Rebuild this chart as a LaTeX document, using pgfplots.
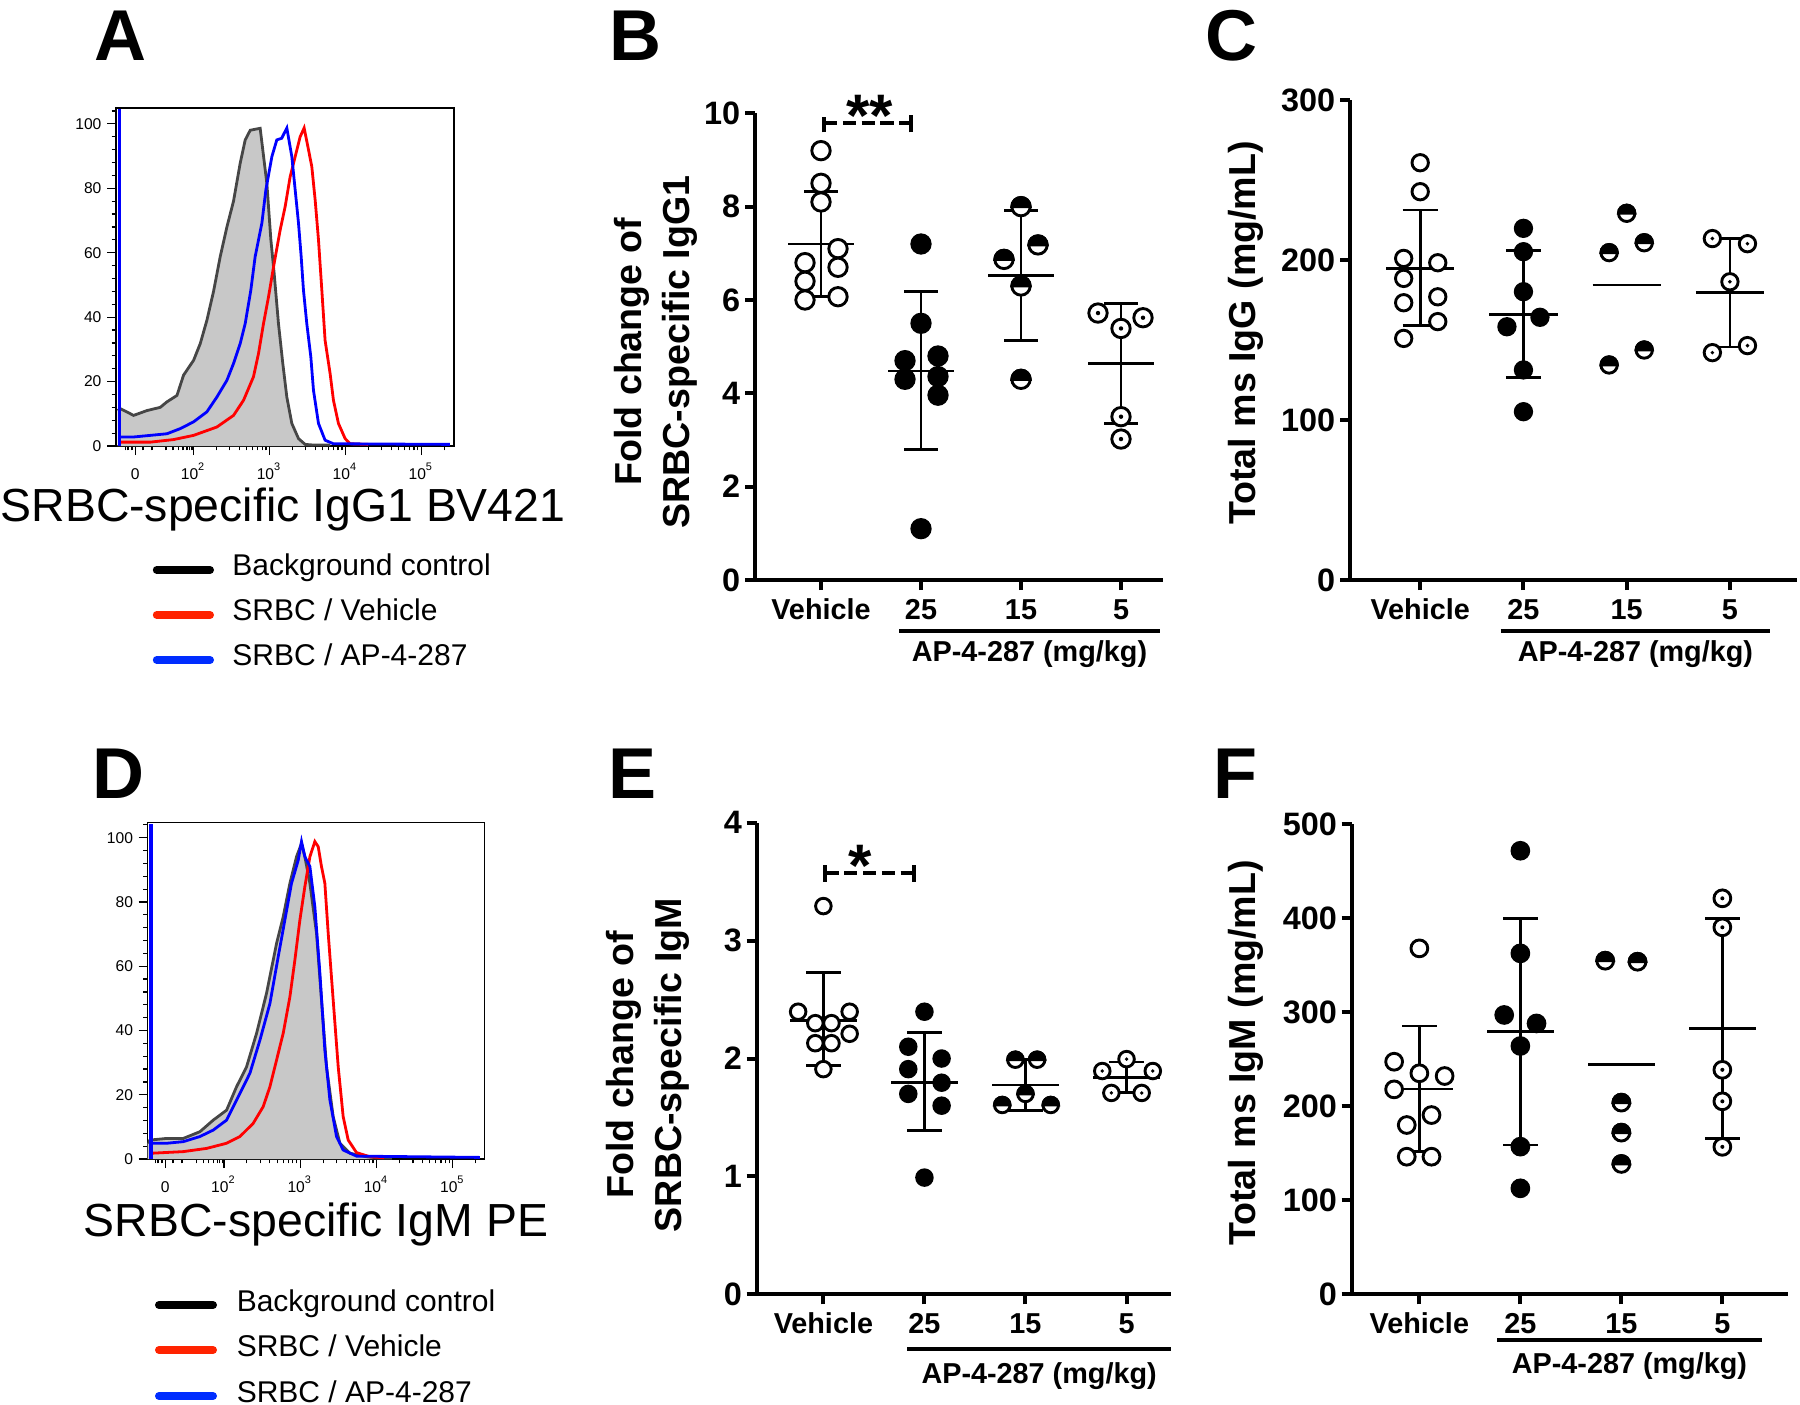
\documentclass[border=0pt]{standalone}
\usepackage{fontspec}
\setmainfont{Liberation Sans}
\usepackage{pgfplots}
\pgfplotsset{compat=1.18}

\definecolor{hred}{RGB}{255,0,0}
\definecolor{hblue}{RGB}{0,0,255}
\definecolor{lred}{RGB}{255,35,0}
\definecolor{lblue}{RGB}{0,45,255}
\definecolor{hfill}{RGB}{200,200,200}
\definecolor{hline}{RGB}{70,70,70}

\pgfdeclareplotmark{halfcirc}{%
  \pgfpathcircle{\pgfpointorigin}{\pgfplotmarksize}%
  \pgfsetfillcolor{white}\pgfusepathqfillstroke
  \pgfpathmoveto{\pgfqpoint{\pgfplotmarksize}{0pt}}%
  \pgfpatharc{0}{180}{\pgfplotmarksize}%
  \pgfpathclose
  \pgfsetfillcolor{black}\pgfusepathqfillstroke}
\pgfdeclareplotmark{dotcirc}{%
  \pgfpathcircle{\pgfpointorigin}{\pgfplotmarksize}%
  \pgfsetfillcolor{white}\pgfusepathqfillstroke
  \pgfpathcircle{\pgfpointorigin}{0.24\pgfplotmarksize}%
  \pgfsetfillcolor{black}\pgfusepathqfill}

\newcommand\labfont{\bfseries\fontsize{9.4}{11}\selectfont}
\newcommand\ytfont{\bfseries\fontsize{8.1}{9}\selectfont}
\newcommand\xtfont{\bfseries\fontsize{7.2}{9}\selectfont}
\newcommand\panfont{\bfseries\fontsize{18}{20}\selectfont}
\newcommand\hxfont{\fontsize{11.6}{13}\selectfont}
\newcommand\legfont{\fontsize{7.5}{9}\selectfont}
\newcommand\htfont{\fontsize{3.9}{4.5}\selectfont}
\newcommand\starfont{\bfseries\fontsize{15}{17}\selectfont}

\pgfplotsset{
  hist/.style={scale only axis, tick pos=left, tick align=outside,
    major tick length=2.25pt, minor tick length=1.1pt,
    tick style={black, line width=0.3pt},
    axis line style={line width=0.35pt},
    ytick={0,20,40,60,80,100}, yticklabels={0,20,40,60,80,100},
    minor ytick={4,8,12,16,24,28,32,36,44,48,52,56,64,68,72,76,84,88,92,96,104},
    xtick={1.23,2,3,4,5},
    xticklabels={0,10\textsuperscript{2},10\textsuperscript{3},10\textsuperscript{4},10\textsuperscript{5}},
    minor xtick={1.10,1.136,1.19,1.333,1.452,1.636,1.728,1.803,1.860,1.912,1.947,1.978,2.301,2.477,2.602,2.699,2.778,2.845,2.903,2.954,3.301,3.477,3.602,3.699,3.778,3.845,3.903,3.954,4.301,4.477,4.602,4.699,4.778,4.845,4.903,4.954,5.301},
    tick label style={font=\htfont},
    y tick label style={inner sep=1.2pt},
    x tick label style={anchor=base, yshift=-6pt}},
  gp/.style={scale only axis, axis lines=left, axis line style={-, line width=1pt},
    tick align=outside, major tick length=2.5pt, tick style={black, line width=1pt},
    xtick={0,1,2,3}, xticklabels={Vehicle,25,15,5},
    x tick label style={font=\xtfont, anchor=base, yshift=-7.4pt},
    y tick label style={font=\ytfont, inner sep=1pt},
    clip=false, unbounded coords=jump, ymin=0},
  vm/.style={black, only marks, mark=*, mark size=#1, mark options={draw=black, fill=white, line width=0.72pt}},
  fm/.style={black, only marks, mark=*, mark size=#1, mark options={draw=black, fill=black, line width=0.72pt}},
  hm/.style={black, only marks, mark=halfcirc, mark size=#1, mark options={draw=black, line width=0.72pt}},
  dm/.style={black, only marks, mark=dotcirc, mark size=#1, mark options={draw=black, line width=0.72pt}},
  eb/.style={black, line width=0.7pt, mark=none},
  br/.style={black, line width=1pt, mark=none, dash pattern=on 3.3pt off 1.4pt},
  bc/.style={black, line width=1pt, mark=none},
  hc/.style={line width=0.7pt, mark=none},
}

\begin{document}
\begin{tikzpicture}
\path[use as bounding box] (0,0) rectangle (450pt,-351pt);

% panel letters
\node[anchor=base west, font=\panfont, inner sep=0] at (23.5pt,-15pt) {A};
\node[anchor=base west, font=\panfont, inner sep=0] at (152.25pt,-15pt) {B};
\node[anchor=base west, font=\panfont, inner sep=0] at (301.25pt,-15pt) {C};
\node[anchor=base west, font=\panfont, inner sep=0] at (23pt,-199.5pt) {D};
\node[anchor=base west, font=\panfont, inner sep=0] at (152pt,-199.5pt) {E};
\node[anchor=base west, font=\panfont, inner sep=0] at (303.25pt,-199.5pt) {F};

% ---------------- A ----------------
\begin{axis}[hist, at={(29pt,-111.5pt)}, anchor=south west, width=84.5pt, height=84.5pt,
  xmin=0.978, xmax=5.43, ymin=0, ymax=104.9]
\addplot[draw=none, fill=hfill] coordinates {(1.0,11) (1.035,11.6) (1.21,9.5) (1.386,11) (1.561,12) (1.649,13.7) (1.781,15.7) (1.868,22) (2.0,26.6) (2.088,31.8) (2.175,39) (2.263,48) (2.351,58.8) (2.439,68) (2.526,76) (2.614,87.8) (2.680,95) (2.746,98) (2.877,98.6) (2.965,81.5) (3.018,64) (3.061,53.6) (3.118,38) (3.175,25.6) (3.228,15.2) (3.294,7) (3.382,2.3) (3.469,0.5) (3.58,0)} \closedcycle;
\addplot[hc, hline] coordinates {(1.0,11) (1.035,11.6) (1.21,9.5) (1.386,11) (1.561,12) (1.649,13.7) (1.781,15.7) (1.868,22) (2.0,26.6) (2.088,31.8) (2.175,39) (2.263,48) (2.351,58.8) (2.439,68) (2.526,76) (2.614,87.8) (2.680,95) (2.746,98) (2.877,98.6) (2.965,81.5) (3.018,64) (3.061,53.6) (3.118,38) (3.175,25.6) (3.228,15.2) (3.294,7) (3.382,2.3) (3.469,0.5) (3.58,0.3) (3.8,0.3)};
\addplot[hc, hred] coordinates {(1.035,1.2) (1.43,1.2) (1.737,2.0) (2.0,3.3) (2.307,5.9) (2.526,9.5) (2.658,14.2) (2.789,21.5) (2.855,28.7) (2.921,38) (2.987,46.3) (3.053,55.6) (3.140,67) (3.206,74.3) (3.272,83.6) (3.338,89.8) (3.404,96) (3.456,98.7) (3.513,92) (3.557,86.7) (3.601,76.4) (3.645,64) (3.689,48.4) (3.732,32.8) (3.798,22.5) (3.842,14.2) (3.908,7) (3.996,2.3) (4.061,0.7) (4.3,0.5)};
\addplot[hc, hblue, line width=0.85pt] coordinates {(1.022,0) (1.022,104.5)};
\addplot[hc, hblue] coordinates {(1.022,2.8) (1.21,2.8) (1.43,3.3) (1.649,3.8) (1.825,5.4) (2.0,7.5) (2.175,10.6) (2.307,15.2) (2.439,20.4) (2.526,25.6) (2.614,31.8) (2.680,38) (2.754,48.4) (2.811,58.8) (2.899,69.1) (2.952,79.5) (3.031,89.8) (3.096,95) (3.16,95.5) (3.228,98.7) (3.294,89.8) (3.338,79.5) (3.382,69.1) (3.417,58.8) (3.447,48.4) (3.491,38) (3.544,27.7) (3.579,17.3) (3.645,7) (3.732,1.8) (3.842,0.7) (5.377,0.5)};
\end{axis}
\node[anchor=base, font=\hxfont] at (70.75pt,-130.25pt) {SRBC-specific IgG1 BV421};
\draw[line width=2pt, line cap=round, black] (39.2pt,-142.5pt) -- (52.5pt,-142.5pt);
\draw[line width=2pt, line cap=round, lred] (39.2pt,-153.75pt) -- (52.5pt,-153.75pt);
\draw[line width=2pt, line cap=round, lblue] (39.2pt,-165pt) -- (52.5pt,-165pt);
\node[anchor=base west, font=\legfont, inner sep=0] at (57.9pt,-143.9pt) {Background control};
\node[anchor=base west, font=\legfont, inner sep=0] at (57.9pt,-155.2pt) {SRBC / Vehicle};
\node[anchor=base west, font=\legfont, inner sep=0] at (57.9pt,-166.4pt) {SRBC / AP-4-287};

% ---------------- D ----------------
\begin{axis}[hist, at={(36.9pt,-289.75pt)}, anchor=south west, width=84.3pt, height=84.1pt,
  xmin=1.0, xmax=5.419, ymin=0, ymax=104.7]
\addplot[draw=none, fill=hfill] coordinates {(1.0,5) (1.031,5.9) (1.249,6.4) (1.467,6.4) (1.686,8.5) (1.860,12.1) (2.035,15.2) (2.166,22.5) (2.297,28.7) (2.428,39.1) (2.559,51.6) (2.690,67.1) (2.777,75.4) (2.865,85.8) (2.952,94.1) (3.017,98.2) (3.061,94.1) (3.127,85.8) (3.214,70.2) (3.279,49.5) (3.345,28.7) (3.432,13.2) (3.520,4.9) (3.651,1.8) (3.869,0.7) (4.044,0.2) (4.2,0)} \closedcycle;
\addplot[hc, hline] coordinates {(1.0,5) (1.031,5.9) (1.249,6.4) (1.467,6.4) (1.686,8.5) (1.860,12.1) (2.035,15.2) (2.166,22.5) (2.297,28.7) (2.428,39.1) (2.559,51.6) (2.690,67.1) (2.777,75.4) (2.865,85.8) (2.952,94.1) (3.017,98.2) (3.061,94.1) (3.127,85.8) (3.214,70.2) (3.279,49.5) (3.345,28.7) (3.432,13.2) (3.520,4.9) (3.651,1.8) (3.869,0.7) (4.044,0.3) (4.2,0.3)};
\addplot[hc, hred] coordinates {(1.052,1.8) (1.467,2.3) (1.773,3.3) (2.035,4.9) (2.210,7) (2.384,11.1) (2.515,16.3) (2.603,22.5) (2.690,30.8) (2.777,39.1) (2.865,50.5) (2.930,61.9) (2.996,74.4) (3.061,84.8) (3.127,94.1) (3.192,98.8) (3.236,97.2) (3.279,91) (3.323,85.8) (3.367,70.2) (3.432,49.5) (3.498,28.7) (3.563,13.2) (3.629,5.9) (3.738,2) (3.913,0.7) (4.1,0.4)};
\addplot[hc, hblue, line width=0.85pt] coordinates {(1.042,0) (1.042,104.3)};
\addplot[hc, hblue] coordinates {(1.042,4.9) (1.249,4.9) (1.467,5.4) (1.686,7) (1.860,9) (2.035,12.1) (2.210,20.4) (2.341,26.7) (2.472,37) (2.603,48.4) (2.712,63) (2.799,74.4) (2.886,85.8) (2.974,93) (3.017,98.8) (3.061,94.1) (3.127,91) (3.192,78.5) (3.258,57.8) (3.323,33.9) (3.389,18.4) (3.476,7) (3.563,2.8) (3.738,0.9) (5.354,0.5)};
\end{axis}
\node[anchor=base, font=\hxfont] at (79pt,-309pt) {SRBC-specific IgM PE};
\draw[line width=2pt, line cap=round, black] (39.75pt,-326.25pt) -- (53.25pt,-326.25pt);
\draw[line width=2pt, line cap=round, lred] (39.75pt,-337.5pt) -- (53.25pt,-337.5pt);
\draw[line width=2pt, line cap=round, lblue] (39.75pt,-349pt) -- (53.25pt,-349pt);
\node[anchor=base west, font=\legfont, inner sep=0] at (59pt,-327.9pt) {Background control};
\node[anchor=base west, font=\legfont, inner sep=0] at (59pt,-339.2pt) {SRBC / Vehicle};
\node[anchor=base west, font=\legfont, inner sep=0] at (59pt,-350.7pt) {SRBC / AP-4-287};

% ---------------- B ----------------
\begin{axis}[gp, at={(188.75pt,-145pt)}, anchor=south west, width=102pt, height=116.675pt,
  xmin=-0.66, xmax=3.42, ymax=10, ytick={0,2,4,6,8,10}, yticklabels={0,2,4,6,8,10}]
\addplot[vm=2.3pt] coordinates {(0,9.2) (0,8.5) (0,8.1) (0.17,7.1) (-0.16,6.8) (0.17,6.7) (-0.16,6.4) (-0.16,6.0) (0.17,6.07)};
\addplot[fm=2.3pt] coordinates {(1,7.2) (1,5.5) (1.17,4.8) (0.84,4.7) (0.84,4.3) (1.17,4.36) (1.17,3.96) (1,1.1)};
\addplot[hm=2.3pt] coordinates {(2,8.0) (2.17,7.18) (1.83,6.87) (2,6.3) (2,4.3)};
\addplot[dm=2.3pt] coordinates {(2.77,5.72) (3.22,5.62) (3,5.39) (3,3.5) (3,3.02)};
\addplot[eb] coordinates {(-0.33,7.2) (0.33,7.2) (0,nan) (0,6.07) (0,8.32) (0,nan) (-0.17,8.32) (0.17,8.32) (0,nan) (-0.17,6.07) (0.17,6.07)};
\addplot[eb] coordinates {(0.67,4.48) (1.33,4.48) (1,nan) (1,2.79) (1,6.18) (1,nan) (0.83,6.18) (1.17,6.18) (1,nan) (0.83,2.79) (1.17,2.79)};
\addplot[eb] coordinates {(1.67,6.52) (2.33,6.52) (2,nan) (2,5.13) (2,7.91) (2,nan) (1.83,7.91) (2.17,7.91) (2,nan) (1.83,5.13) (2.17,5.13)};
\addplot[eb] coordinates {(2.67,4.64) (3.33,4.64) (3,nan) (3,3.36) (3,5.93) (3,nan) (2.83,5.93) (3.17,5.93) (3,nan) (2.83,3.36) (3.17,3.36)};
\addplot[br] coordinates {(0.03,9.79) (0.90,9.79)};
\addplot[bc] coordinates {(0.03,9.59) (0.03,9.93) (0,nan) (0.90,9.59) (0.90,9.96)};
\node[anchor=base, font=\starfont, inner sep=0] at (axis cs:0.49,9.51) {**};
\draw[line width=1pt] ([yshift=-12.75pt]axis cs:0.78,0) -- ([yshift=-12.75pt]axis cs:3.39,0);
\node[font=\xtfont, inner sep=0] at ([yshift=-18.6pt]axis cs:2.085,0) {AP-4-287 (mg/kg)};
\end{axis}
\node[rotate=90, anchor=base, font=\labfont, inner sep=0] at (160.25pt,-88pt) {Fold change of};
\node[rotate=90, anchor=base, font=\labfont, inner sep=0] at (172.25pt,-88pt) {SRBC-specific IgG1};

% ---------------- C ----------------
\begin{axis}[gp, at={(337.5pt,-145pt)}, anchor=south west, width=111.75pt, height=120pt,
  xmin=-0.68, xmax=3.65, ymax=300, ytick={0,100,200,300}, yticklabels={0,100,200,300}]
\addplot[vm=2.05pt] coordinates {(0,260.8) (0,242.7) (-0.16,201) (0.17,198.3) (-0.16,188.5) (0.17,177) (-0.16,173.3) (0.17,161.5) (-0.16,151)};
\addplot[fm=2.05pt] coordinates {(1,219.8) (1,205.2) (1,180.2) (1.16,164.2) (0.84,158.3) (1,131.3) (1,105.2)};
\addplot[hm=2.05pt] coordinates {(2,229.2) (2.17,210.8) (1.83,204.6) (2.17,143.75) (1.83,134.4)};
\addplot[dm=2.05pt] coordinates {(2.83,213.4) (3.17,210.2) (3,186.4) (3.17,146.5) (2.83,142.1)};
\addplot[eb] coordinates {(-0.33,194.8) (0.33,194.8) (0,nan) (0,159) (0,231.3) (0,nan) (-0.17,231.3) (0.17,231.3) (0,nan) (-0.17,159) (0.17,159)};
\addplot[eb] coordinates {(0.67,166) (1.33,166) (1,nan) (1,126.5) (1,205.8) (1,nan) (0.83,205.8) (1.17,205.8) (1,nan) (0.83,126.5) (1.17,126.5)};
\addplot[eb] coordinates {(1.67,184.4) (2.33,184.4)};
\addplot[eb] coordinates {(2.67,179.5) (3.33,179.5) (3,nan) (3,145.6) (3,213.4) (3,nan) (2.83,213.4) (3.17,213.4) (3,nan) (2.83,145.6) (3.17,145.6)};
\draw[line width=1pt] ([yshift=-12.75pt]axis cs:0.78,0) -- ([yshift=-12.75pt]axis cs:3.39,0);
\node[font=\xtfont, inner sep=0] at ([yshift=-18.6pt]axis cs:2.085,0) {AP-4-287 (mg/kg)};
\end{axis}
\node[rotate=90, anchor=base, font=\labfont, inner sep=0] at (313.75pt,-83.25pt) {Total ms IgG (mg/mL)};

% ---------------- E ----------------
\begin{axis}[gp, at={(189.175pt,-323.575pt)}, anchor=south west, width=103.575pt, height=117.9pt,
  xmin=-0.66, xmax=3.44, ymax=4, ytick={0,1,2,3,4}, yticklabels={0,1,2,3,4}]
\addplot[vm=1.95pt] coordinates {(0,3.293) (-0.25,2.397) (0.26,2.397) (-0.08,2.30) (0.08,2.30) (0.26,2.21) (-0.08,2.13) (0.08,2.13) (0,1.91)};
\addplot[fm=1.95pt] coordinates {(1,2.397) (0.84,2.10) (1.17,2.00) (0.84,1.91) (1.17,1.795) (0.84,1.70) (1.17,1.60) (1,0.99)};
\addplot[hm=1.95pt] coordinates {(1.9,1.99) (2.115,1.99) (2,1.70) (1.77,1.606) (2.25,1.606)};
\addplot[dm=1.95pt] coordinates {(3,1.995) (2.76,1.894) (3.26,1.894) (2.85,1.708) (3.15,1.708)};
\addplot[eb] coordinates {(-0.33,2.32) (0.33,2.32) (0,nan) (0,1.94) (0,2.73) (0,nan) (-0.17,2.73) (0.17,2.73) (0,nan) (-0.17,1.94) (0.17,1.94)};
\addplot[eb] coordinates {(0.67,1.80) (1.33,1.80) (1,nan) (1,1.39) (1,2.22) (1,nan) (0.83,2.22) (1.17,2.22) (1,nan) (0.83,1.39) (1.17,1.39)};
\addplot[eb] coordinates {(1.67,1.775) (2.33,1.775) (2,nan) (2,1.56) (2,1.99) (2,nan) (1.83,1.99) (2.17,1.99) (2,nan) (1.83,1.56) (2.17,1.56)};
\addplot[eb] coordinates {(2.67,1.839) (3.33,1.839) (3,nan) (3,1.71) (3,1.97) (3,nan) (2.83,1.97) (3.17,1.97) (3,nan) (2.83,1.71) (3.17,1.71)};
\addplot[br] coordinates {(0.02,3.576) (0.90,3.576)};
\addplot[bc] coordinates {(0.02,3.50) (0.02,3.64) (0,nan) (0.90,3.50) (0.90,3.64)};
\node[anchor=base, font=\starfont, inner sep=0] at (axis cs:0.36,3.463) {*};
\draw[line width=1pt] ([yshift=-13.75pt]axis cs:0.83,0) -- ([yshift=-13.75pt]axis cs:3.44,0);
\node[font=\xtfont, inner sep=0] at ([yshift=-20.5pt]axis cs:2.135,0) {AP-4-287 (mg/kg)};
\end{axis}
\node[rotate=90, anchor=base, font=\labfont, inner sep=0] at (158.25pt,-266.25pt) {Fold change of};
\node[rotate=90, anchor=base, font=\labfont, inner sep=0] at (170.25pt,-266.25pt) {SRBC-specific IgM};

% ---------------- F ----------------
\begin{axis}[gp, at={(337.925pt,-323.575pt)}, anchor=south west, width=109.075pt, height=117.575pt,
  xmin=-0.67, xmax=3.65, ymax=500, ytick={0,100,200,300,400,500}, yticklabels={0,100,200,300,400,500}]
\addplot[vm=2.1pt] coordinates {(0,367.8) (-0.25,247.3) (0,235) (0.25,232.1) (-0.25,217.9) (0.12,190.6) (-0.125,180) (-0.125,146.3) (0.12,146.3)};
\addplot[fm=2.1pt] coordinates {(1,471.6) (1,362.5) (0.84,297) (1.16,288) (1,264) (1,157) (1,112.7)};
\addplot[hm=2.1pt] coordinates {(1.84,354.7) (2.16,353.6) (2,203.8) (2,171.9) (2,138.6)};
\addplot[dm=2.1pt] coordinates {(3,421) (3,390.2) (3,238.7) (3,205.2) (3,156.8)};
\addplot[eb] coordinates {(-0.33,218.3) (0.33,218.3) (0,nan) (0,151.7) (0,285.3) (0,nan) (-0.17,285.3) (0.17,285.3) (0,nan) (-0.17,151.7) (0.17,151.7)};
\addplot[eb] coordinates {(0.67,279.2) (1.33,279.2) (1,nan) (1,158.8) (1,399.7) (1,nan) (0.83,399.7) (1.17,399.7) (1,nan) (0.83,158.8) (1.17,158.8)};
\addplot[eb] coordinates {(1.67,244.5) (2.33,244.5)};
\addplot[eb] coordinates {(2.67,282.6) (3.33,282.6) (3,nan) (3,165.8) (3,399.3) (3,nan) (2.83,399.3) (3.17,399.3) (3,nan) (2.83,165.8) (3.17,165.8)};
\draw[line width=1pt] ([yshift=-11.5pt]axis cs:0.77,0) -- ([yshift=-11.5pt]axis cs:3.39,0);
\node[font=\xtfont, inner sep=0] at ([yshift=-18pt]axis cs:2.08,0) {AP-4-287 (mg/kg)};
\end{axis}
\node[rotate=90, anchor=base, font=\labfont, inner sep=0] at (313.75pt,-263.25pt) {Total ms IgM (mg/mL)};

\end{tikzpicture}
\end{document}
